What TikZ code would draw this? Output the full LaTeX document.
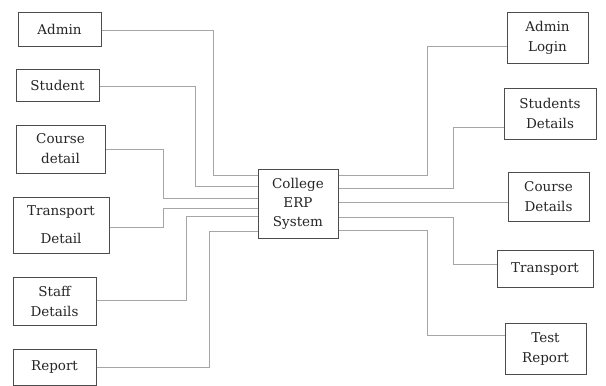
\documentclass[tikz,border=0pt]{standalone}
\usepackage{fontspec}
\setmainfont{DejaVu Serif}
\begin{document}
\begin{tikzpicture}[x=1pt,y=-1pt,
  box/.style={draw=black!70, line width=1pt, text=black!85, inner sep=0pt, align=center,
    font=\fontsize{13.5}{20}\selectfont},
  conn/.style={draw=black!35, line width=1pt}]
\useasboundingbox[fill=white] (0,0) rectangle (606,386);
% left boxes
\node[box, minimum width=83, minimum height=34] (admin) at (59.5,29) {Admin};
\node[box, minimum width=83, minimum height=32] (student) at (57.5,85) {Student};
\node[box, minimum width=89, minimum height=48] (course) at (60.5,149) {Course\\detail};
\node[box, minimum width=96, minimum height=56] (trd) at (61,225) {Transport\\[8pt]Detail};
\node[box, minimum width=83, minimum height=48] (staff) at (54.5,301) {Staff\\Details};
\node[box, minimum width=83, minimum height=36] (report) at (54.5,367) {Report};
% centre
\node[box, minimum width=80, minimum height=69] (erp) at (298,203.5) {College\\[-1pt]ERP\\[-1pt]System};
% right boxes
\node[box, minimum width=81, minimum height=51] (alogin) at (547.5,37.5) {Admin\\Login};
\node[box, minimum width=92, minimum height=51] (sdet) at (550,113.5) {Students\\Details};
\node[box, minimum width=81, minimum height=49] (cdet) at (548.5,196.5) {Course\\Details};
\node[box, minimum width=96, minimum height=37] (tr) at (545,268.5) {Transport};
\node[box, minimum width=81, minimum height=51] (test) at (545.5,348.5) {Test\\Report};
% left connectors
\draw[conn] ([yshift=-1pt]admin.east) -- ++(112,0) |- ([yshift=28.5pt]erp.west);
\draw[conn] ([yshift=-1pt]student.east) -- ++(96,0) |- ([yshift=17.5pt]erp.west);
\draw[conn] (course.east) -- ++(58,0) |- ([yshift=5.5pt]erp.west);
\draw[conn] ([yshift=-2pt]trd.east) -- ++(54,0) |- ([yshift=-4.5pt]erp.west);
\draw[conn] ([yshift=1pt]staff.east) -- ++(90,0) |- ([yshift=-12.5pt]erp.west);
\draw[conn] (report.east) -- ++(113,0) |- ([yshift=-27.5pt]erp.west);
% right connectors
\draw[conn] ([yshift=28.5pt]erp.east) -- ++(89,0) |- ([yshift=-8.5pt]alogin.west);
\draw[conn] ([yshift=15.5pt]erp.east) -- ++(115,0) |- ([yshift=-13.5pt]sdet.west);
\draw[conn] ([yshift=1.5pt]erp.east) -- ([yshift=-5.5pt]cdet.west);
\draw[conn] ([yshift=-13.5pt]erp.east) -- ++(115,0) |- ([yshift=4.5pt]tr.west);
\draw[conn] ([yshift=-26.5pt]erp.east) -- ++(89,0) |- ([yshift=13.5pt]test.west);
\end{tikzpicture}
\end{document}
